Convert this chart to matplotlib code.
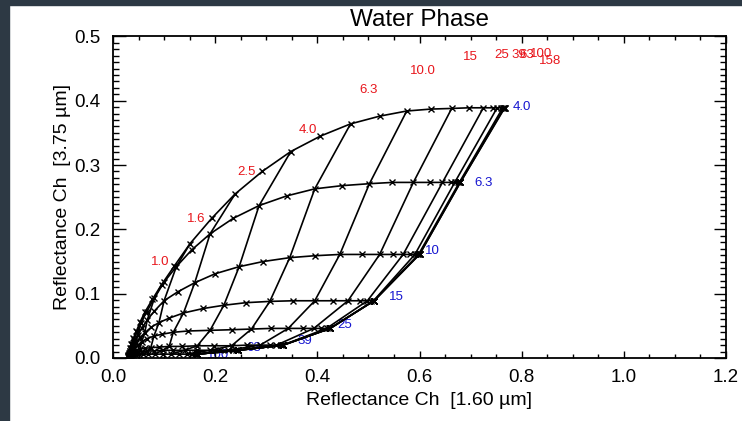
import numpy as np
import matplotlib.pyplot as plt
from matplotlib.patches import Rectangle
from matplotlib.ticker import MultipleLocator, FormatStrFormatter

plt.rcParams['font.family'] = ['Liberation Sans', 'DejaVu Sans']

# -- constant effective radius curves (tau grows to the right, 10 steps per decade)
re04_x = [0.036, 0.040, 0.046, 0.053, 0.063, 0.077, 0.095, 0.120, 0.151, 0.193, 0.239, 0.292, 0.348, 0.406, 0.465,
          0.522, 0.575, 0.622, 0.663, 0.697, 0.725, 0.743, 0.752, 0.759, 0.763, 0.765, 0.766, 0.767, 0.767]
re04_y = [0.022, 0.031, 0.042, 0.056, 0.072, 0.091, 0.114, 0.143, 0.178, 0.217, 0.255, 0.290, 0.321, 0.345, 0.364,
          0.376, 0.384, 0.387, 0.388, 0.389, 0.389, 0.389, 0.389, 0.389, 0.389, 0.389, 0.389, 0.389, 0.389]

re06_x = [0.034, 0.037, 0.041, 0.047, 0.055, 0.066, 0.081, 0.100, 0.124, 0.154, 0.190, 0.235, 0.286, 0.340, 0.395,
          0.449, 0.502, 0.547, 0.588, 0.620, 0.645, 0.661, 0.669, 0.675, 0.678, 0.679, 0.680, 0.680, 0.680]
re06_y = [0.016, 0.022, 0.030, 0.041, 0.055, 0.072, 0.093, 0.118, 0.142, 0.168, 0.193, 0.217, 0.237, 0.252, 0.263,
          0.268, 0.271, 0.273, 0.273, 0.273, 0.273, 0.273, 0.273, 0.273, 0.273, 0.273, 0.273, 0.273, 0.273]

re10_x = [0.033, 0.035, 0.038, 0.042, 0.048, 0.056, 0.067, 0.081, 0.100, 0.127, 0.160, 0.200, 0.247, 0.294, 0.346,
          0.395, 0.444, 0.487, 0.522, 0.549, 0.568, 0.581, 0.591, 0.595, 0.598, 0.599, 0.600, 0.600, 0.600]
re10_y = [0.011, 0.015, 0.020, 0.027, 0.035, 0.046, 0.059, 0.073, 0.089, 0.103, 0.117, 0.131, 0.142, 0.150, 0.156,
          0.159, 0.161, 0.161, 0.161, 0.161, 0.161, 0.161, 0.161, 0.161, 0.161, 0.161, 0.161, 0.161, 0.161]

re15_x = [0.032, 0.034, 0.036, 0.040, 0.045, 0.052, 0.062, 0.075, 0.090, 0.110, 0.138, 0.177, 0.217, 0.260, 0.307,
          0.353, 0.395, 0.431, 0.460, 0.483, 0.498, 0.506, 0.510, 0.511, 0.511, 0.511, 0.511, 0.511, 0.511]
re15_y = [0.008, 0.011, 0.014, 0.018, 0.024, 0.031, 0.039, 0.048, 0.055, 0.062, 0.070, 0.077, 0.082, 0.086, 0.088,
          0.089, 0.089, 0.089, 0.089, 0.089, 0.089, 0.089, 0.089, 0.089, 0.089, 0.089, 0.089, 0.089, 0.089]

re25_x = [0.031, 0.033, 0.035, 0.038, 0.042, 0.048, 0.056, 0.066, 0.080, 0.096, 0.118, 0.147, 0.190, 0.233, 0.271,
          0.309, 0.343, 0.372, 0.393, 0.408, 0.418, 0.423, 0.425, 0.425, 0.425, 0.425, 0.425, 0.425, 0.425]
re25_y = [0.006, 0.008, 0.010, 0.013, 0.016, 0.020, 0.025, 0.030, 0.034, 0.037, 0.040, 0.042, 0.043, 0.044, 0.045,
          0.046, 0.046, 0.046, 0.046, 0.046, 0.046, 0.046, 0.046, 0.046, 0.046, 0.046, 0.046, 0.046, 0.046]

re39_x = [0.030, 0.032, 0.034, 0.037, 0.041, 0.046, 0.053, 0.062, 0.074, 0.090, 0.110, 0.135, 0.165, 0.198, 0.232,
          0.262, 0.288, 0.307, 0.320, 0.328, 0.332, 0.333, 0.333, 0.333, 0.333, 0.333, 0.333, 0.333, 0.333]
re39_y = [0.004, 0.005, 0.007, 0.008, 0.010, 0.012, 0.014, 0.015, 0.016, 0.017, 0.018, 0.018, 0.019, 0.019, 0.019,
          0.020, 0.020, 0.020, 0.020, 0.020, 0.020, 0.020, 0.020, 0.020, 0.020, 0.020, 0.020, 0.020, 0.020]

re63_x = [0.029, 0.031, 0.033, 0.035, 0.038, 0.043, 0.049, 0.057, 0.067, 0.080, 0.097, 0.117, 0.140, 0.165, 0.190,
          0.210, 0.225, 0.235, 0.241, 0.244, 0.245, 0.245, 0.245, 0.245, 0.245, 0.245, 0.245, 0.245, 0.245]
re63_y = [0.003, 0.004, 0.005, 0.006, 0.007, 0.008, 0.009, 0.010, 0.011, 0.011, 0.012, 0.012, 0.012, 0.012, 0.012,
          0.012, 0.012, 0.012, 0.012, 0.012, 0.012, 0.012, 0.012, 0.012, 0.012, 0.012, 0.012, 0.012, 0.012]

re100_x = [0.029, 0.030, 0.032, 0.034, 0.036, 0.040, 0.045, 0.051, 0.059, 0.069, 0.082, 0.097, 0.113, 0.130, 0.145,
           0.155, 0.161, 0.164, 0.165, 0.165, 0.165, 0.165, 0.165, 0.165, 0.165, 0.165, 0.165, 0.165, 0.165]
re100_y = [0.002, 0.003, 0.003, 0.004, 0.004, 0.005, 0.005, 0.006, 0.006, 0.006, 0.006, 0.006, 0.006, 0.006, 0.006,
           0.006, 0.006, 0.006, 0.006, 0.006, 0.006, 0.006, 0.006, 0.006, 0.006, 0.006, 0.006, 0.006, 0.006]

# -- labels
re_text = ['4.0', '6.3', '10', '15', '25', '39', '63', '100']
re_lab_x = [0.800, 0.726, 0.626, 0.554, 0.454, 0.376, 0.276, 0.205]
re_lab_y = [0.390, 0.272, 0.166, 0.095, 0.051, 0.026, 0.016, 0.005]

tau_text = ['1.0', '1.6', '2.5', '4.0', '6.3', '10.0', '15', '25', '39', '63', '100', '158']
tau_lab_x = [0.092, 0.162, 0.262, 0.382, 0.501, 0.607, 0.699, 0.761, 0.795, 0.810, 0.838, 0.855]
tau_lab_y = [0.149, 0.216, 0.289, 0.355, 0.417, 0.446, 0.468, 0.471, 0.471, 0.471, 0.473, 0.462]

curves_x = np.array([re04_x, re06_x, re10_x, re15_x, re25_x, re39_x, re63_x, re100_x])
curves_y = np.array([re04_y, re06_y, re10_y, re15_y, re25_y, re39_y, re63_y, re100_y])

fig = plt.figure(figsize=(7.42, 4.21), dpi=100)
ax = fig.add_axes([113/742, 1-358/421, (726-113)/742, (358-36.4)/421])

# -- constant tau lines (every other grid column)
for j in range(0, curves_x.shape[1], 2):
    ax.plot(curves_x[:, j], curves_y[:, j], color='black', lw=1.2, zorder=2)

# -- constant re curves
for cx, cy in zip(curves_x, curves_y):
    ax.plot(cx, cy, color='black', lw=1.2, marker='x', ms=4, mew=1.0, zorder=3)

for t, x, y in zip(tau_text, tau_lab_x, tau_lab_y):
    ax.text(x, y, t, color='#e8161c', fontsize=9.5, ha='center', va='center', zorder=1)
for t, x, y in zip(re_text, re_lab_x, re_lab_y):
    ax.text(x, y, t, color='#1515d0', fontsize=9.5, ha='center', va='center', zorder=1)

ax.set_xlim(0.0, 1.2)
ax.set_ylim(0.0, 0.5)
ax.xaxis.set_major_locator(MultipleLocator(0.2))
ax.xaxis.set_minor_locator(MultipleLocator(0.05))
ax.yaxis.set_major_locator(MultipleLocator(0.1))
ax.yaxis.set_minor_locator(MultipleLocator(0.01))
ax.xaxis.set_major_formatter(FormatStrFormatter('%.1f'))
ax.yaxis.set_major_formatter(FormatStrFormatter('%.1f'))
ax.tick_params(axis='both', which='both', direction='in', top=True, right=True, labelsize=13.5, colors='black')
ax.tick_params(axis='x', which='major', length=5, width=1.0, pad=8)
ax.tick_params(axis='x', which='minor', length=3, width=1.0)
ax.tick_params(axis='y', which='major', length=9, width=1.0, pad=9)
ax.tick_params(axis='y', which='minor', length=4.5, width=1.0)
for s in ax.spines.values():
    s.set_linewidth(1.3)

ax.set_title('Water Phase', fontsize=17.5, pad=7.5)
ax.set_xlabel('Reflectance Ch  [1.60 \u00b5m]', fontsize=14, labelpad=4)
ax.set_ylabel('Reflectance Ch  [3.75 \u00b5m]', fontsize=14, labelpad=2)

# -- dark frame of the screenshot
fig.patches.append(Rectangle((0, 0), 9/742, 1, transform=fig.transFigure, color='#2d3944', zorder=10))
fig.patches.append(Rectangle((0, 1-5/421), 1, 5/421, transform=fig.transFigure, color='#2d3944', zorder=10))

fig.savefig('out.png', dpi=100)
